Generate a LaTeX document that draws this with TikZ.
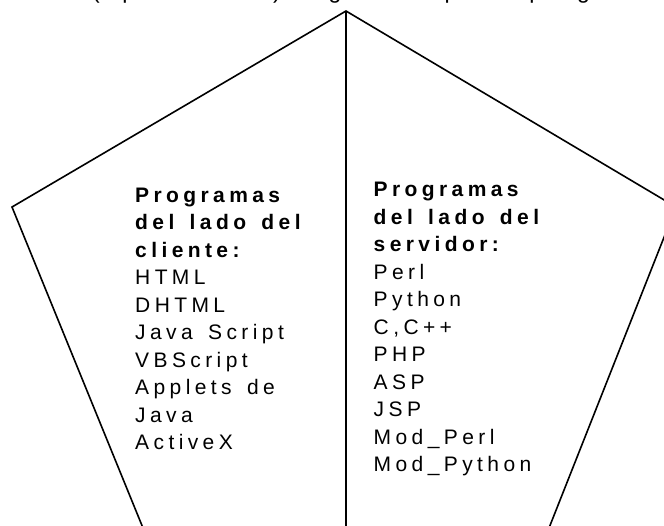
\documentclass[tikz,border=0pt]{standalone}
\usepackage{fontspec}
\setmainfont{Liberation Sans}[LetterSpace=21, WordSpace=1.5]
\begin{document}
\begin{tikzpicture}[x=1pt,y=-1pt,
  edge/.style={line width=1.6pt, line join=miter},
  col/.style={anchor=base west, inner sep=0pt, align=left,
    font=\fontsize{21}{27.5}\selectfont},
  headline/.style={anchor=base west, inner sep=0pt,
    font=\fontsize{23}{27}\selectfont}]
\useasboundingbox (0,0) rectangle (664,525);
\clip (0,0) rectangle (664,525);

% pentagon corners and the dividing line
\coordinate (A) at (346,11);
\coordinate (L) at (12,207);
\coordinate (R) at (676,207);
\coordinate (BL) at (143,528);
\coordinate (BR) at (549,528);
\coordinate (M) at (346,528);
\draw[edge] (A) -- (R) -- (BR) -- (BL) -- (L) -- cycle;
\draw[edge] (A) -- (M);

% heading line, mostly above the top edge
\node[headline] (title) at (92,-1.5)
  {(aproximada)\hspace{14pt}según\hspace{12pt}el\hspace{12pt}tipo\hspace{12pt}de\hspace{12pt}programa};

% client-side column (anchored at its last baseline)
\node[col] (client) at (135,449.5)
  {\textbf{Programas}\\\textbf{del lado del}\\\textbf{cliente:}\\HTML\\DHTML\\Java Script\\VBScript\\Applets de\\Java\\ActiveX};

% server-side column (anchored at its last baseline)
\node[col] (server) at (373.5,471.7)
  {\textbf{Programas}\\\textbf{del lado del}\\\textbf{servidor:}\\Perl\\Python\\C,C++\\PHP\\ASP\\JSP\\Mod\_Perl\\Mod\_Python};
\end{tikzpicture}
\end{document}
